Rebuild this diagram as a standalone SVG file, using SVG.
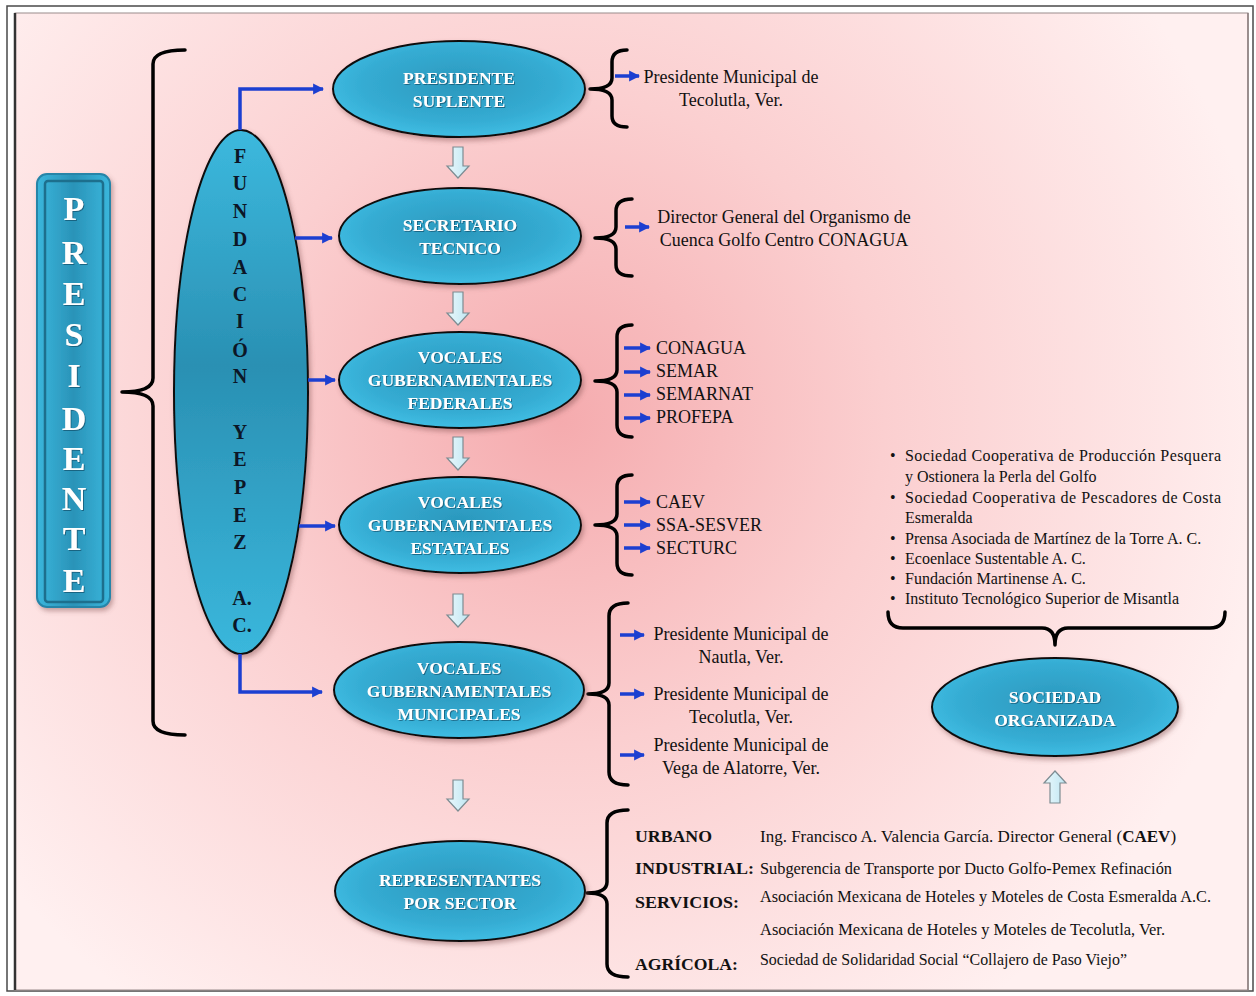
<svg xmlns="http://www.w3.org/2000/svg" width="1256" height="996" viewBox="0 0 1256 996">
<defs>
<radialGradient id="bg" cx="560" cy="420" r="720" gradientUnits="userSpaceOnUse">
<stop offset="0" stop-color="#f5abae"/>
<stop offset="0.45" stop-color="#fbcfd0"/>
<stop offset="1" stop-color="#fff0f0"/>
</radialGradient>
<radialGradient id="ell" cx="50%" cy="45%" r="55%">
<stop offset="0" stop-color="#2b98bd"/>
<stop offset="0.7" stop-color="#35acd3"/>
<stop offset="1" stop-color="#3fbde3"/>
</radialGradient>
<linearGradient id="fund" x1="0" y1="0" x2="0" y2="1">
<stop offset="0" stop-color="#3cb9de"/>
<stop offset="0.45" stop-color="#2a90b3"/>
<stop offset="1" stop-color="#3ab7dc"/>
</linearGradient>
<linearGradient id="pres" x1="0" y1="0" x2="1" y2="0">
<stop offset="0" stop-color="#3ab6dc"/>
<stop offset="0.5" stop-color="#2a93b8"/>
<stop offset="1" stop-color="#3ab6dc"/>
</linearGradient>
<linearGradient id="hollow" x1="0" y1="0" x2="1" y2="0">
<stop offset="0" stop-color="#eaf8fc"/>
<stop offset="1" stop-color="#bfe6f2"/>
</linearGradient>
<filter id="sh" x="-10%" y="-10%" width="125%" height="130%">
<feDropShadow dx="2" dy="3" stdDeviation="2.5" flood-color="#7a4a4a" flood-opacity="0.45"/>
</filter>
<filter id="tsh" x="-5%" y="-20%" width="110%" height="150%">
<feDropShadow dx="1" dy="1" stdDeviation="0.6" flood-color="#10506a" flood-opacity="0.7"/>
</filter>
<marker id="ah" viewBox="0 0 10 10" refX="9" refY="5" markerWidth="11" markerHeight="12" markerUnits="userSpaceOnUse" orient="auto">
<path d="M0,0 L10,5 L0,10 z" fill="#1c3fd1"/>
</marker>
<style>
.node{fill:url(#ell);stroke:#111;stroke-width:2;filter:url(#sh)}
.nt{font-family:"Liberation Serif",serif;font-weight:bold;font-size:17.5px;fill:#fff;text-anchor:middle;filter:url(#tsh)}
.fl{font-family:"Liberation Serif",serif;font-weight:bold;font-size:20px;fill:#0c1626;text-anchor:middle}
.pl{font-family:"Liberation Serif",serif;font-weight:bold;font-size:34px;fill:#fff;text-anchor:middle;filter:url(#tsh)}
.br{fill:none;stroke:#000;stroke-width:3.5;stroke-linecap:round;stroke-linejoin:round}
.bl{fill:none;stroke:#1c3fd1;stroke-width:3.5;marker-end:url(#ah)}
.ho{fill:url(#hollow);stroke:#7d8c92;stroke-width:1.2}
.t{font-family:"Liberation Serif",serif;font-size:18px;fill:#111}
.tm{font-family:"Liberation Serif",serif;font-size:18px;fill:#111;text-anchor:middle}
.s{font-family:"Liberation Serif",serif;font-size:16px;fill:#111}
.r{font-family:"Liberation Serif",serif;font-size:17px;fill:#111}
.rb{font-family:"Liberation Serif",serif;font-size:17.5px;font-weight:bold;fill:#111}
</style>
</defs>

<rect x="0" y="0" width="1256" height="996" fill="#ffffff"/>
<rect x="15" y="13" width="1233" height="977" fill="url(#bg)"/>
<rect x="7" y="6" width="1246" height="985" fill="none" stroke="#4a4a4a" stroke-width="1.5"/>
<rect x="15" y="13" width="1233" height="977" fill="none" stroke="#9a8c8c" stroke-width="1"/>
<line x1="15" y1="13" x2="15" y2="990" stroke="#333" stroke-width="2.5"/>
<line x1="1248" y1="13" x2="1248" y2="990" stroke="#8a7c7c" stroke-width="1.5"/>

<g id="presidente">
<rect x="37" y="174" width="73" height="433" rx="10" fill="url(#pres)" stroke="#2585a8" stroke-width="2" filter="url(#sh)"/>
<rect x="45" y="181" width="58" height="421" rx="3" fill="none" stroke="#1d6f8d" stroke-width="2.5"/>
<text class="pl" x="74" y="220">P</text>
<text class="pl" x="74" y="264">R</text>
<text class="pl" x="74" y="305">E</text>
<text class="pl" x="74" y="346">S</text>
<text class="pl" x="74" y="387">I</text>
<text class="pl" x="74" y="430">D</text>
<text class="pl" x="74" y="470">E</text>
<text class="pl" x="74" y="510">N</text>
<text class="pl" x="74" y="550">T</text>
<text class="pl" x="74" y="592">E</text>
</g>

<g id="fundacion">
<ellipse cx="241" cy="392" rx="67" ry="262" fill="url(#fund)" stroke="#111" stroke-width="2" filter="url(#sh)"/>
<text class="fl" x="240" y="163">F</text>
<text class="fl" x="240" y="190">U</text>
<text class="fl" x="240" y="218">N</text>
<text class="fl" x="240" y="246">D</text>
<text class="fl" x="240" y="274">A</text>
<text class="fl" x="240" y="301">C</text>
<text class="fl" x="240" y="328">I</text>
<text class="fl" x="240" y="357">Ó</text>
<text class="fl" x="240" y="383">N</text>
<text class="fl" x="240" y="439">Y</text>
<text class="fl" x="240" y="466">E</text>
<text class="fl" x="240" y="494">P</text>
<text class="fl" x="240" y="522">E</text>
<text class="fl" x="240" y="549">Z</text>
<text class="fl" x="242" y="605">A.</text>
<text class="fl" x="242" y="632">C.</text>
</g>

<g id="connectors">
<path class="br" d="M185,50 Q153,50 153,64 L153,378 Q153,392 122,392 Q153,392 153,406 L153,721 Q153,735 185,735"/>
<path class="bl" d="M240,130 V89 H323"/>
<path class="bl" d="M295,238 H332"/>
<path class="bl" d="M308,380 H335"/>
<path class="bl" d="M299,526 H335"/>
<path class="bl" d="M240,654 V692 H322"/>
<path class="ho" d="M453,147 H463 V166 H469 L458,178 L447,166 H453 Z"/>
<path class="ho" d="M453,292 H463 V313 H469 L458,325 L447,313 H453 Z"/>
<path class="ho" d="M453,437 H463 V458 H469 L458,470 L447,458 H453 Z"/>
<path class="ho" d="M453,594 H463 V615 H469 L458,627 L447,615 H453 Z"/>
<path class="ho" d="M453,780 H463 V799 H469 L458,811 L447,799 H453 Z"/>
<path class="ho" d="M1050,803 H1060 V783 H1066 L1055,771 L1044,783 H1050 Z"/>
<path class="br" d="M627,50 Q612,50 612,62 L612,78 Q612,89 590,89 Q612,89 612,100 L612,116 Q612,127 627,127"/>
<path class="br" d="M632,199 Q616,199 616,211 L616,227 Q616,238 595,238 Q616,238 616,249 L616,265 Q616,276 632,276"/>
<path class="br" d="M632,325 Q617,325 617,337 L617,370 Q617,381 595,381 Q617,381 617,392 L617,425 Q617,437 632,437"/>
<path class="br" d="M632,475 Q617,475 617,487 L617,514 Q617,525 595,525 Q617,525 617,536 L617,563 Q617,575 632,575"/>
<path class="br" d="M628,603 Q609,603 609,616 L609,683 Q609,694 588,694 Q609,694 609,705 L609,772 Q609,785 628,785"/>
<path class="br" d="M628,810 Q607,810 607,823 L607,882 Q607,893 587,893 Q607,893 607,904 L607,964 Q607,977 628,977"/>
<path class="br" d="M888,612 Q888,628 903,628 L1042,628 Q1055,628 1055,645 Q1055,628 1068,628 L1210,628 Q1225,628 1225,612"/>
<path class="bl" d="M615,76 H639"/>
<path class="bl" d="M625,227 H649"/>
<path class="bl" d="M624,348 H650"/>
<path class="bl" d="M624,372 H650"/>
<path class="bl" d="M624,395 H650"/>
<path class="bl" d="M624,418 H650"/>
<path class="bl" d="M624,502 H650"/>
<path class="bl" d="M624,525 H650"/>
<path class="bl" d="M624,548 H650"/>
<path class="bl" d="M620,635 H644"/>
<path class="bl" d="M620,694 H644"/>
<path class="bl" d="M620,755 H644"/>
</g>

<g id="presidente-suplente">
<ellipse class="node" cx="459" cy="89" rx="126" ry="48"/>
<text class="nt" x="459" y="84">PRESIDENTE</text>
<text class="nt" x="459" y="107">SUPLENTE</text>
</g>
<g id="secretario-tecnico">
<ellipse class="node" cx="460" cy="236" rx="121" ry="48"/>
<text class="nt" x="460" y="231">SECRETARIO</text>
<text class="nt" x="460" y="254">TECNICO</text>
</g>
<g id="vocales-federales">
<ellipse class="node" cx="460" cy="380" rx="121" ry="48"/>
<text class="nt" x="460" y="363">VOCALES</text>
<text class="nt" x="460" y="386">GUBERNAMENTALES</text>
<text class="nt" x="460" y="409">FEDERALES</text>
</g>
<g id="vocales-estatales">
<ellipse class="node" cx="460" cy="525" rx="121" ry="48"/>
<text class="nt" x="460" y="508">VOCALES</text>
<text class="nt" x="460" y="531">GUBERNAMENTALES</text>
<text class="nt" x="460" y="554">ESTATALES</text>
</g>
<g id="vocales-municipales">
<ellipse class="node" cx="459" cy="690" rx="125" ry="48"/>
<text class="nt" x="459" y="674">VOCALES</text>
<text class="nt" x="459" y="697">GUBERNAMENTALES</text>
<text class="nt" x="459" y="720">MUNICIPALES</text>
</g>
<g id="representantes">
<ellipse class="node" cx="460" cy="891" rx="125" ry="50"/>
<text class="nt" x="460" y="886">REPRESENTANTES</text>
<text class="nt" x="460" y="909">POR SECTOR</text>
</g>
<g id="sociedad-organizada">
<ellipse class="node" cx="1055" cy="707" rx="123" ry="49"/>
<text class="nt" x="1055" y="703">SOCIEDAD</text>
<text class="nt" x="1055" y="726">ORGANIZADA</text>
</g>

<g id="texts-suplente">
<text class="tm" x="731" y="83">Presidente Municipal de</text>
<text class="tm" x="731" y="106">Tecolutla, Ver.</text>
</g>
<g id="texts-secretario">
<text class="tm" x="784" y="223">Director General del Organismo de</text>
<text class="tm" x="784" y="246">Cuenca Golfo Centro CONAGUA</text>
</g>
<g id="texts-federales">
<text class="t" x="656" y="354">CONAGUA</text>
<text class="t" x="656" y="377">SEMAR</text>
<text class="t" x="656" y="400">SEMARNAT</text>
<text class="t" x="656" y="423">PROFEPA</text>
</g>
<g id="texts-estatales">
<text class="t" x="656" y="508">CAEV</text>
<text class="t" x="656" y="531">SSA-SESVER</text>
<text class="t" x="656" y="554">SECTURC</text>
</g>
<g id="texts-municipales">
<text class="tm" x="741" y="640">Presidente Municipal de</text>
<text class="tm" x="741" y="663">Nautla, Ver.</text>
<text class="tm" x="741" y="700">Presidente Municipal de</text>
<text class="tm" x="741" y="723">Tecolutla, Ver.</text>
<text class="tm" x="741" y="751">Presidente Municipal de</text>
<text class="tm" x="741" y="774">Vega de Alatorre, Ver.</text>
</g>
<g id="texts-sociedad">
<text class="s" x="890" y="461">•</text>
<text class="s" x="905" y="461" textLength="316">Sociedad Cooperativa de Producción Pesquera</text>
<text class="s" x="905" y="482">y Ostionera la Perla del Golfo</text>
<text class="s" x="890" y="503">•</text>
<text class="s" x="905" y="503" textLength="316">Sociedad Cooperativa de Pescadores de Costa</text>
<text class="s" x="905" y="523">Esmeralda</text>
<text class="s" x="890" y="544">•</text>
<text class="s" x="905" y="544">Prensa Asociada de Martínez de la Torre A. C.</text>
<text class="s" x="890" y="564">•</text>
<text class="s" x="905" y="564">Ecoenlace Sustentable A. C.</text>
<text class="s" x="890" y="584">•</text>
<text class="s" x="905" y="584">Fundación Martinense A. C.</text>
<text class="s" x="890" y="604">•</text>
<text class="s" x="905" y="604">Instituto Tecnológico Superior de Misantla</text>
</g>
<g id="texts-representantes">
<text class="rb" x="635" y="842" textLength="77" lengthAdjust="spacingAndGlyphs">URBANO</text>
<text class="r" x="760" y="842" font-size="16.3">Ing. Francisco A. Valencia García. Director General (<tspan font-weight="bold">CAEV</tspan>)</text>
<text class="rb" x="635" y="874" textLength="119" lengthAdjust="spacingAndGlyphs">INDUSTRIAL:</text>
<text class="r" x="760" y="874" textLength="412" lengthAdjust="spacingAndGlyphs">Subgerencia de Transporte por Ducto Golfo-Pemex Refinación</text>
<text class="rb" x="635" y="908" textLength="104" lengthAdjust="spacingAndGlyphs">SERVICIOS:</text>
<text class="r" x="760" y="902" textLength="451" lengthAdjust="spacingAndGlyphs">Asociación Mexicana de Hoteles y Moteles de Costa Esmeralda A.C.</text>
<text class="r" x="760" y="935" textLength="405" lengthAdjust="spacingAndGlyphs">Asociación Mexicana de Hoteles y Moteles de Tecolutla, Ver.</text>
<text class="rb" x="635" y="970" textLength="103" lengthAdjust="spacingAndGlyphs">AGRÍCOLA:</text>
<text class="r" x="760" y="965" textLength="367" lengthAdjust="spacingAndGlyphs">Sociedad de Solidaridad Social “Collajero de Paso Viejo”</text>
</g>
</svg>
